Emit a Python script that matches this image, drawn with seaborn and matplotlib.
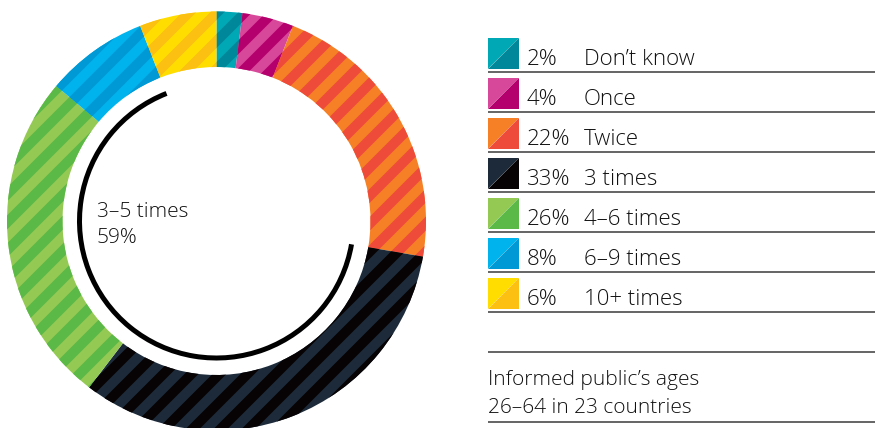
import numpy as np
import matplotlib
matplotlib.use("Agg")
import matplotlib.pyplot as plt
import seaborn as sns
from matplotlib.patches import Polygon, Arc
from matplotlib.collections import PolyCollection

# ---------------- data ----------------
categories = ["Don’t know", "Once", "Twice", "3 times", "4–6 times", "6–9 times", "10+ times"]
values = [2, 4, 22, 33, 26, 8, 6]
pct_labels = ["2%", "4%", "22%", "33%", "26%", "8%", "6%"]
light_colors = ["#00A8B6", "#D8489A", "#F58025", "#1C2A39", "#94C954", "#00B3EC", "#FFDD00"]
dark_colors = ["#00889A", "#B4006C", "#EF4B3B", "#070304", "#5AB947", "#0099D6", "#FBC012"]
center_lines = ["3–5 times", "59%"]
footnote_lines = ["Informed public’s ages", "26–64 in 23 countries"]

# ---------------- style ----------------
W, H = 875, 428
sns.set_theme(style="white")
plt.rcParams["font.family"] = ["Open Sans", "DejaVu Sans"]
TXT = "#111111"
LINE = "#3a3a3a"
FW = "light"

fig = plt.figure(figsize=(W / 100, H / 100), dpi=100)
ax = fig.add_axes([0, 0, 1, 1])

cx, cy = 216.5, H - 221
R, ring = 209.5, 55.5

wedges, _ = ax.pie(values, colors=light_colors, startangle=90, counterclock=False,
                   center=(cx, cy), radius=R,
                   wedgeprops=dict(width=ring, linewidth=0), frame=True)

# diagonal stripes clipped to each wedge
P = 28.0
ymin, ymax = cy - R - 20, cy + R + 20
cmin, cmax = (cx - R) - ymax - 2 * P, (cx + R) - ymin + 2 * P
offs = np.arange(cmin, cmax, P)
for w, dc in zip(wedges, dark_colors):
    polys = []
    for c1 in offs:
        c2 = c1 + P / 2
        polys.append([(ymin + c1, ymin), (ymin + c2, ymin), (ymax + c2, ymax), (ymax + c1, ymax)])
    pc = PolyCollection(polys, facecolors=dc, edgecolors="none")
    ax.add_collection(pc)
    pc.set_clip_path(w)

# inner arc for "3–5 times"
total = sum(values)
cum = np.cumsum([0] + values) / total
start_ang = 90 - 360 * cum[3]
end_ang = 90 - 360 * cum[6]
arc = Arc((cx, cy), 2 * 137, 2 * 137, theta1=end_ang % 360, theta2=start_ang % 360,
          lw=3.6, color="black", capstyle="butt")
ax.add_patch(arc)

ax.text(97, H - 216.7, center_lines[0], fontsize=15, color=TXT, va="baseline", fontweight=FW)
ax.text(97, H - 242.7, center_lines[1], fontsize=15, color=TXT, va="baseline", fontweight=FW)

# legend rows
x0, x1 = 488, 519
for i, (cat, pct) in enumerate(zip(categories, pct_labels)):
    ly = 72.3 + 40 * i
    top, bot = H - (ly - 34.3), H - (ly - 3.6)
    ax.add_patch(Polygon([(x0, top), (x1, top), (x0, bot)], closed=True,
                         facecolor=light_colors[i], edgecolor="none"))
    ax.add_patch(Polygon([(x1, top), (x1, bot), (x0, bot)], closed=True,
                         facecolor=dark_colors[i], edgecolor="none"))
    ax.plot([488, 875], [H - ly, H - ly], color=LINE, lw=1.1, solid_capstyle="butt")
    ax.text(526.7, H - (ly - 7.3), pct, fontsize=16, color=TXT, va="baseline", fontweight=FW)
    ax.text(584, H - (ly - 7.3), cat, fontsize=16, color=TXT, va="baseline", fontweight=FW)

for ly in (352.3, 421.7):
    ax.plot([488, 875], [H - ly, H - ly], color=LINE, lw=1.1, solid_capstyle="butt")

ax.text(488, H - 385, footnote_lines[0], fontsize=15, color=TXT, va="baseline", fontweight=FW)
ax.text(488, H - 412.7, footnote_lines[1], fontsize=15, color=TXT, va="baseline", fontweight=FW)

ax.set_xlim(0, W)
ax.set_ylim(0, H)
ax.set_aspect("equal")
ax.axis("off")
fig.savefig("out.png", dpi=100)
